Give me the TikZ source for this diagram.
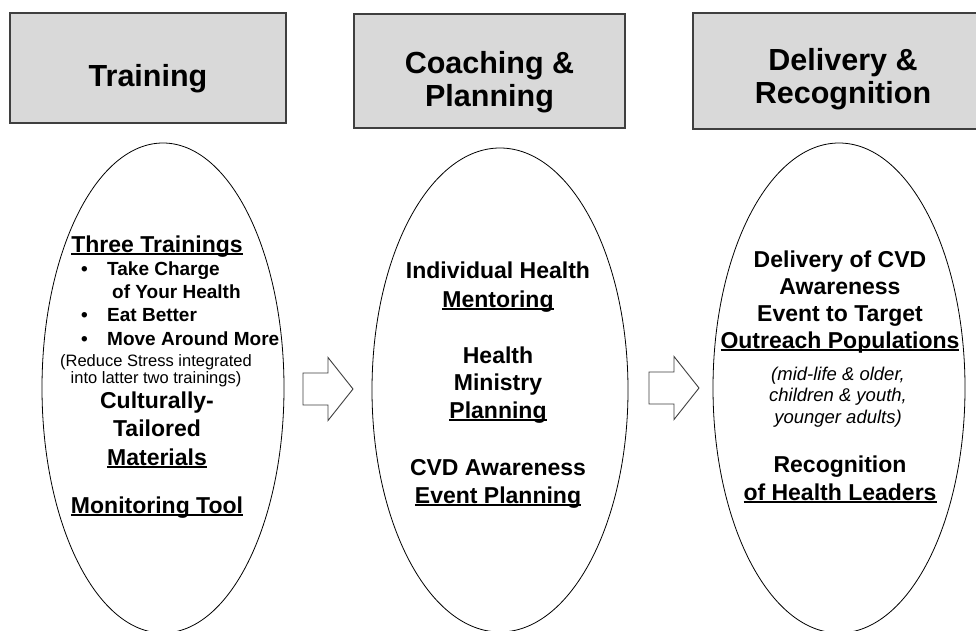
\documentclass[tikz,border=0pt]{standalone}
\usepackage{fontspec}
\setmainfont{Liberation Sans}
\usetikzlibrary{shapes.geometric}
\definecolor{boxfill}{HTML}{D9D9D9}
\definecolor{boxline}{HTML}{3F3F3F}
\newcommand{\fs}[2]{\fontsize{#1}{#2}\selectfont}
\newcommand{\undl}[1]{\setbox0\hbox{#1}\rlap{\rule[-3pt]{\wd0}{1.8pt}}\box0}

\begin{document}
\begin{tikzpicture}[x=1pt,y=-1pt]

% ---------- styles ----------
\tikzset{
  stagebox/.style={draw=boxline, fill=boxfill, line width=1.5pt, inner sep=0pt},
  stagetitle/.style={font=\bfseries\fs{30.5}{33}, align=center, inner sep=0pt, anchor=base},
  stageoval/.style={ellipse, draw=black, line width=0.8pt, inner sep=0pt},
  itemtxt/.style={font=\bfseries\fs{23}{28}, align=center, inner sep=0pt, anchor=base},
  flowarrow/.style={draw=boxline, fill=white, line width=0.9pt, line join=miter}
}

\useasboundingbox (0,0) rectangle (976,631);

% ---------- block arrow macro ----------
\newcommand{\blockarrow}[3]{%
  % #1 = name, #2 = tail x, #3 = middle y
  \coordinate (#1) at (#2,#3);
  \draw[flowarrow] (#1) ++(0,-16) -- ++(25,0) -- ++(0,-15.5)
    -- ++(25,31.5) -- ++(-25,31.5) -- ++(0,-15.5) -- ++(-25,0) -- cycle;
}

% ==================================================
% Headers (anchored at the last baseline)
% ==================================================
\node[stagebox, minimum width=276pt, minimum height=110pt] (train) at (148,68) {};
\node[stagebox, minimum width=271pt, minimum height=114pt] (coach) at (489.5,71) {};
\node[stagebox, minimum width=297pt, minimum height=116pt] (deliv) at (841.5,71) {};

\node[stagetitle] (trainT) at (148,87) {Training};
\node[stagetitle] (coachT) at (489.5,107) {Coaching \&\\Planning};
\node[stagetitle] (delivT) at (843,104) {Delivery \&\\Recognition};

% ==================================================
% Ovals
% ==================================================
\node[stageoval, minimum width=242pt, minimum height=490pt] (ovA) at (163,388) {};
\node[stageoval, minimum width=256pt, minimum height=484pt] (ovB) at (500,390) {};
\node[stageoval, minimum width=252pt, minimum height=490pt] (ovC) at (839,388) {};

\blockarrow{arrA}{303}{389}
\blockarrow{arrB}{649}{388}

% ---------- training ----------
\node[itemtxt] (three) at (157,252) {\undl{Three Trainings}};
\node[font=\bfseries\fs{19}{23.3}, align=left, inner sep=0pt, anchor=base west] (list) at (81,345)
  {\makebox[26pt][l]{\textbullet}Take Charge\\
   \hspace{31pt}of Your Health\\
   \makebox[26pt][l]{\textbullet}Eat Better\\
   \makebox[26pt][l]{\textbullet}Move Around More};
\node[font=\fs{16.5}{16.5}, align=center, inner sep=0pt, anchor=base] (stress) at (156,383)
  {(Reduce Stress integrated\\into latter two trainings)};
\node[itemtxt, font=\bfseries\fs{23}{28.5}] (cult) at (157,465) {Culturally-\\Tailored\\\undl{Materials}};
\node[itemtxt] (monit) at (157,513) {\undl{Monitoring Tool}};

% ---------- coaching ----------
\node[itemtxt, font=\bfseries\fs{23}{29}] (mentor) at (498,307) {Individual Health\\\undl{Mentoring}};
\node[itemtxt, font=\bfseries\fs{23}{27.5}] (minis) at (498,418) {Health\\Ministry\\\undl{Planning}};
\node[itemtxt] (event) at (498,503) {CVD Awareness\\\undl{Event Planning}};

% ---------- delivery ----------
\node[itemtxt, font=\bfseries\fs{23}{26.7}] (target) at (840,348)
  {Delivery of CVD\\Awareness\\Event to Target\\\undl{Outreach Populations}};
\node[font=\itshape\fs{18.5}{21.5}, align=center, inner sep=0pt, anchor=base] (groups) at (838,423)
  {(mid-life \& older,\\children \& youth,\\younger adults)};
\node[itemtxt] (recog) at (840,500) {Recognition\\\undl{of Health Leaders}};

\end{tikzpicture}
\end{document}
